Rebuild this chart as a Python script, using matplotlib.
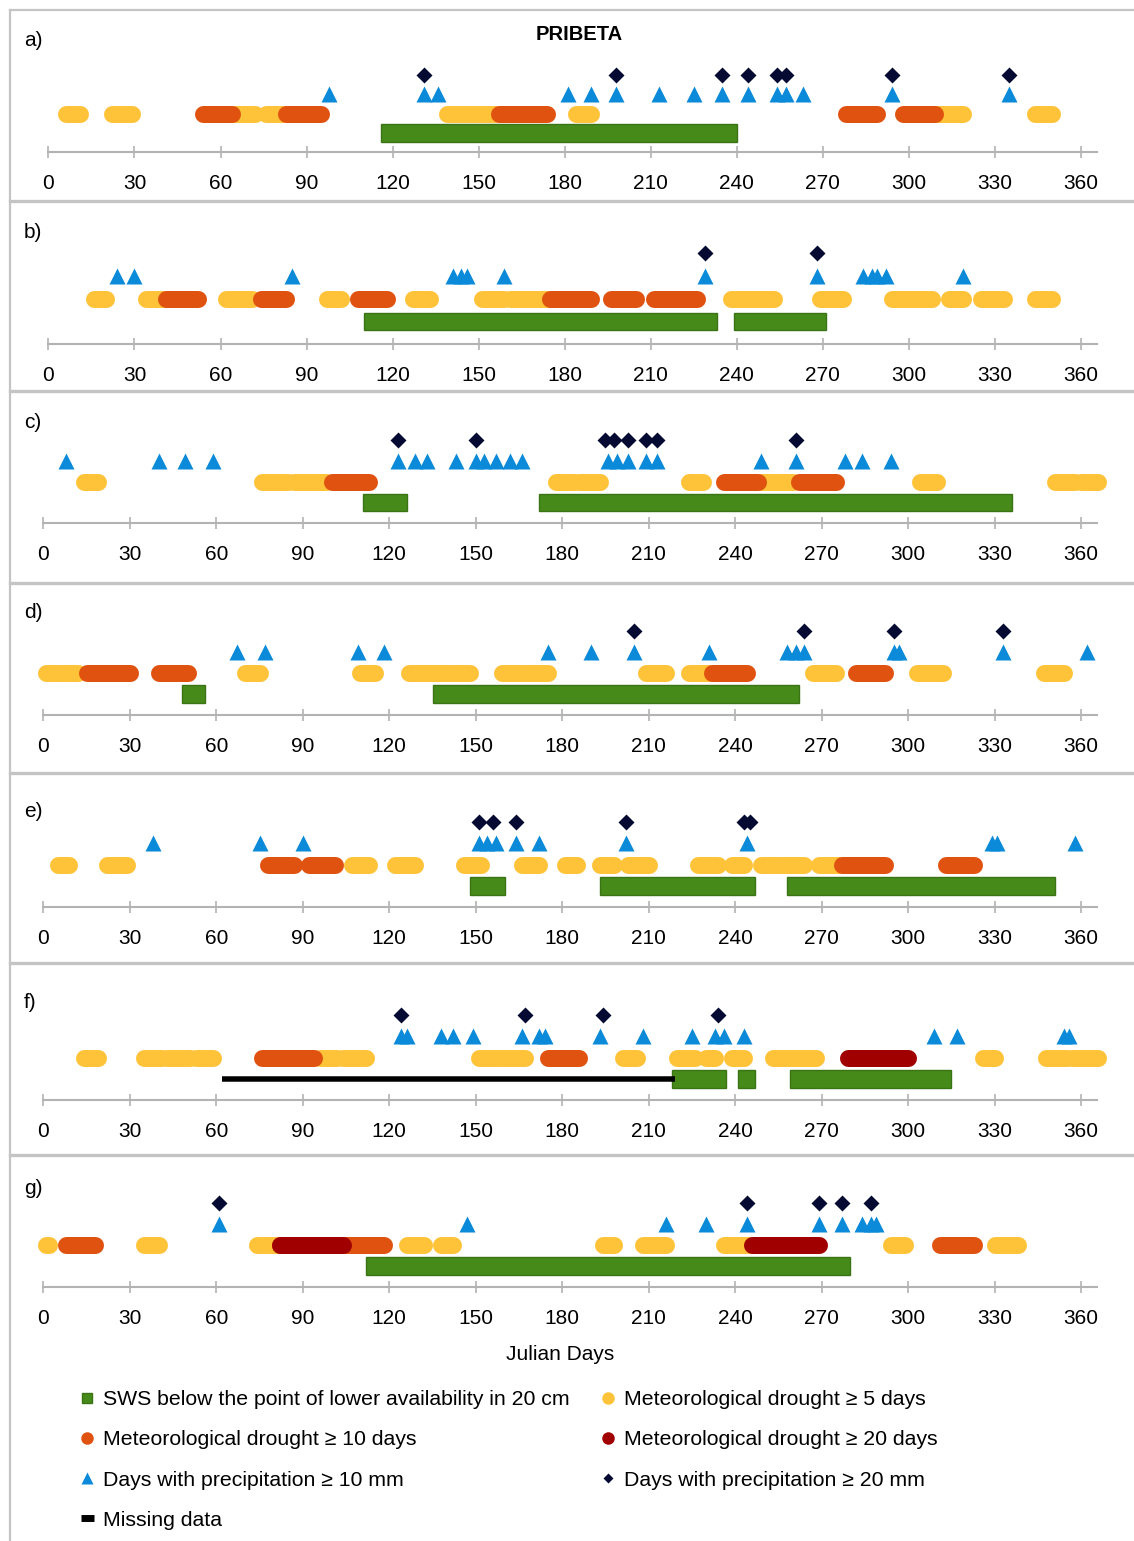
import matplotlib
matplotlib.use("Agg")
import matplotlib.pyplot as plt
from matplotlib.lines import Line2D

plt.rcParams['font.family'] = ['Liberation Sans', 'DejaVu Sans']

# ---- data: Julian days ----
# drought events are (first day, last day), SWS/missing are (start, end)
a_dry5 = [(6, 11), (22, 29), (65, 72), (76, 82), (139, 148), (149, 156), (184, 189), (309, 319), (344, 350)]
a_dry10 = [(54, 64), (83, 95), (157, 174), (278, 289), (298, 309)]
a_dry20 = []
a_rain10 = [98, 131, 136, 181, 189, 198, 213, 225, 235, 244, 254, 257, 263, 294, 335]
a_rain20 = [131, 198, 235, 244, 254, 257, 294, 335]
a_sws = [(116, 240)]

b_dry5 = [(16, 20), (34, 40), (62, 71), (97, 102), (127, 133), (151, 159), (161, 167), (168, 174),
          (238, 247), (248, 253), (269, 277), (294, 302), (303, 308), (314, 319), (325, 333), (344, 350)]
b_dry10 = [(41, 52), (74, 83), (108, 118), (175, 189), (196, 205), (211, 226)]
b_dry20 = []
b_rain10 = [24, 30, 85, 141, 144, 146, 159, 229, 268, 284, 287, 289, 292, 319]
b_rain20 = [229, 268]
b_sws = [(110, 233), (239, 271)]

c_dry5 = [(14, 19), (76, 85), (87, 98), (178, 184), (186, 193), (224, 229), (249, 260), (304, 310), (351, 358), (360, 366)]
c_dry10 = [(100, 113), (236, 248), (262, 275)]
c_dry20 = []
c_rain10 = [8, 40, 49, 59, 123, 129, 133, 143, 150, 153, 157, 162, 166, 196, 199, 203, 209, 213, 249, 261, 278, 284, 294]
c_rain20 = [123, 150, 195, 198, 203, 209, 213, 261]
c_sws = [(111, 126), (172, 336)]

d_dry5 = [(1, 6), (7, 12), (70, 75), (110, 115), (127, 135), (136, 141), (142, 148), (159, 167), (168, 175),
          (209, 216), (224, 231), (267, 275), (303, 312), (347, 354)]
d_dry10 = [(15, 30), (40, 50), (232, 244), (282, 292)]
d_dry20 = []
d_rain10 = [67, 77, 109, 118, 175, 190, 205, 231, 258, 261, 264, 295, 297, 333, 362]
d_rain20 = [205, 264, 295, 333]
d_sws = [(48, 56), (135, 262)]

e_dry5 = [(5, 9), (22, 29), (107, 113), (122, 129), (146, 152), (166, 172), (181, 185), (193, 198), (203, 210),
          (227, 234), (239, 243), (249, 256), (257, 264), (269, 276)]
e_dry10 = [(78, 87), (92, 101), (277, 292), (313, 323)]
e_dry20 = []
e_rain10 = [38, 75, 90, 151, 154, 157, 164, 172, 202, 244, 329, 331, 358]
e_rain20 = [151, 156, 164, 202, 243, 245]
e_sws = [(148, 160), (193, 247), (258, 351)]

f_dry5 = [(14, 19), (35, 41), (43, 51), (53, 59), (96, 102), (104, 112), (151, 158), (159, 167), (201, 206),
          (220, 226), (230, 233), (239, 243), (253, 259), (260, 268), (326, 330), (348, 355), (357, 366)]
f_dry10 = [(76, 94), (175, 186)]
f_dry20 = [(279, 300)]
f_rain10 = [124, 126, 138, 142, 149, 166, 172, 174, 193, 208, 225, 233, 236, 243, 309, 317, 354, 356]
f_rain20 = [124, 167, 194, 234]
f_sws = [(218, 237), (241, 247), (259, 315)]
f_missing = [(62, 219)]

g_dry5 = [(1, 2), (35, 40), (74, 81), (126, 132), (138, 142), (194, 198), (208, 216), (236, 245), (294, 299), (330, 338)]
g_dry10 = [(8, 18), (82, 118), (311, 323)]
g_dry20 = [(82, 104), (246, 269)]
g_rain10 = [61, 147, 216, 230, 244, 269, 277, 284, 287, 289]
g_rain20 = [61, 244, 269, 277, 287]
g_sws = [(112, 280)]

letters = ['a)', 'b)', 'c)', 'd)', 'e)', 'f)', 'g)']
ticks = list(range(0, 361, 30))

panels = [
    (a_dry5, a_dry10, a_dry20, a_rain10, a_rain20, a_sws, []),
    (b_dry5, b_dry10, b_dry20, b_rain10, b_rain20, b_sws, []),
    (c_dry5, c_dry10, c_dry20, c_rain10, c_rain20, c_sws, []),
    (d_dry5, d_dry10, d_dry20, d_rain10, d_rain20, d_sws, []),
    (e_dry5, e_dry10, e_dry20, e_rain10, e_rain20, e_sws, []),
    (f_dry5, f_dry10, f_dry20, f_rain10, f_rain20, f_sws, f_missing),
    (g_dry5, g_dry10, g_dry20, g_rain10, g_rain20, g_sws, []),
]

# ---- layout (pixels) ----
W, H, DPI = 1134, 1541, 100
axis_y = [152, 344, 523, 715, 907, 1100, 1287]
spacing = [19.25, 22.75, 20.75, 21, 21.25, 21.25, 21]
x0s = [48.4, 48.4, 43.4, 43.4, 43.4, 43.4, 43.4]
letter_y = [40, 233, 422, 613, 812, 1002, 1188]
seps = [201, 391, 582.5, 772.5, 962.5, 1155]

YELLOW = '#ffc33a'
ORANGE = '#e0520f'
DARKRED = '#a00000'
BLUE = '#0a8ad8'
NAVY = '#050a33'
GREEN = '#468a1a'
GREEN_EDGE = '#3a7414'
GRAY = '#c4c4c4'
AXGRAY = '#b3b3b3'

PT = 72 / DPI  # points per pixel

fig = plt.figure(figsize=(W / DPI, H / DPI), dpi=DPI)

bg = fig.add_axes([0, 0, 1, 1])
bg.set_xlim(0, W)
bg.set_ylim(H, 0)
bg.axis('off')
bg.axvline(10, ymin=0, ymax=1 - 10 / H, color=GRAY, lw=1.6)
bg.axhline(10, xmin=10 / W, xmax=1, color=GRAY, lw=1.6)
for y in seps:
    bg.axhline(y, xmin=10 / W, xmax=1, color=GRAY, lw=2.4)

for i, (dry5, dry10, dry20, rain10, rain20, sws, missing) in enumerate(panels):
    x0 = x0s[i]
    sp = spacing[i]
    ppd = (1081 - x0) / 360
    top = 4.8
    ax = fig.add_axes([x0 / W, 1 - axis_y[i] / H, 365.5 * ppd / W, top * sp / H])
    ax.set_xlim(0, 365.5)
    ax.set_ylim(0, top)
    ax.patch.set_visible(False)

    for s, e in sws:
        ax.barh(1, e - s, left=s, height=17.5 / sp, color=GREEN, edgecolor=GREEN_EDGE, lw=1, zorder=2)
    for s, e in missing:
        ax.plot([s, e], [1, 1], color='black', lw=5.5 * PT, solid_capstyle='butt', zorder=3)

    for events, col in ((dry5, YELLOW), (dry10, ORANGE), (dry20, DARKRED)):
        for s, e in events:
            ax.plot([s, e], [2, 2], color=col, lw=17 * PT, solid_capstyle='round', clip_on=False, zorder=3)

    ax.plot(rain10, [3] * len(rain10), ls='none', marker='^', ms=11.5, color=BLUE, mec='none', clip_on=False, zorder=4)
    ax.plot(rain20, [4] * len(rain20), ls='none', marker='D', ms=8.2, color=NAVY, mec='none', clip_on=False, zorder=4)

    for side in ('left', 'right', 'top'):
        ax.spines[side].set_visible(False)
    ax.spines['bottom'].set_color(AXGRAY)
    ax.spines['bottom'].set_linewidth(1.5)
    ax.set_yticks([])
    ax.set_xticks(ticks)
    ax.tick_params(axis='x', direction='inout', length=8, width=1.2, color=AXGRAY,
                   labelsize=15, pad=12, labelcolor='black')

    fig.text(24 / W, 1 - letter_y[i] / H, letters[i], fontsize=15, va='center', ha='left')

fig.text(579 / W, 1 - 34 / H, 'PRIBETA', fontsize=14.5, fontweight='bold', ha='center', va='center')
fig.text(560 / W, 1 - 1354 / H, 'Julian Days', fontsize=15, ha='center', va='center')

h_sws = Line2D([], [], ls='none', marker='s', ms=7.5, color=GREEN, mec=GREEN_EDGE)
h_d5 = Line2D([], [], ls='none', marker='o', ms=9, color=YELLOW, mec='none')
h_d10 = Line2D([], [], ls='none', marker='o', ms=9, color=ORANGE, mec='none')
h_d20 = Line2D([], [], ls='none', marker='o', ms=9, color=DARKRED, mec='none')
h_r10 = Line2D([], [], ls='none', marker='^', ms=8, color=BLUE, mec='none')
h_r20 = Line2D([], [], ls='none', marker='D', ms=5.5, color=NAVY, mec='none')
h_miss = Line2D([], [], color='black', lw=5, solid_capstyle='butt')

handles = [h_sws, h_d10, h_r10, h_miss, h_d5, h_d20, h_r20]
labels = ['SWS below the point of lower availability in 20 cm',
          'Meteorological drought \u2265 10 days',
          'Days with precipitation \u2265 10 mm',
          'Missing data',
          'Meteorological drought \u2265 5 days',
          'Meteorological drought \u2265 20 days',
          'Days with precipitation \u2265 20 mm']
fig.legend(handles, labels, ncol=2, loc='upper left', bbox_to_anchor=(81 / W, 1 - 1390 / H),
           frameon=False, fontsize=15.3, handlelength=0.6, handletextpad=0.45,
           labelspacing=1.0, columnspacing=1.5, borderpad=0, borderaxespad=0)

fig.savefig('out.png', dpi=DPI)
